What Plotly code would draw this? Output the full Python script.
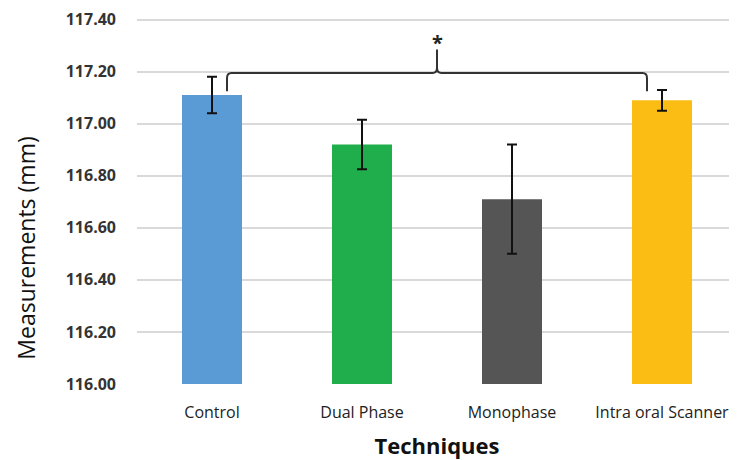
import plotly.graph_objects as go

categories = ["Control", "Dual Phase", "Monophase", "Intra oral Scanner"]
means = [117.11, 116.92, 116.71, 117.09]
errors = [0.07, 0.095, 0.21, 0.04]
colors = ["#5b9bd5", "#1fae4b", "#555555", "#fbbd13"]
y_ticks = [116.00, 116.20, 116.40, 116.60, 116.80, 117.00, 117.20, 117.40]
y_tick_labels = [f"{v:.2f}" for v in y_ticks]

x_idx = list(range(len(categories)))

fig = go.Figure()
fig.add_trace(go.Bar(
    x=x_idx, y=means,
    marker=dict(color=colors, line=dict(width=0)),
    error_y=dict(type="data", array=errors, visible=True, color="#111111", thickness=2, width=5),
    width=0.4,
    showlegend=False,
))

# significance bracket between Control and Intra oral Scanner
left = 0 + 0.1
right = 3 - 0.1
mid = (left + right) / 2
yb = 117.195
ylow = 117.125
ypk = 117.285
dx = 0.03
dy = 0.02
path = (f"M {left},{ylow} L {left},{yb-dy} Q {left},{yb} {left+dx},{yb} "
        f"L {mid-dx},{yb} Q {mid},{yb} {mid},{yb+dy} L {mid},{ypk} "
        f"M {mid},{yb+dy} Q {mid},{yb} {mid+dx},{yb} "
        f"L {right-dx},{yb} Q {right},{yb} {right},{yb-dy} L {right},{ylow}")
fig.add_shape(type="path", path=path, xref="x", yref="y",
              line=dict(color="#333333", width=2))
fig.add_annotation(x=mid, y=ypk, text="<b>*</b>", showarrow=False,
                   yanchor="bottom", yshift=-8, font=dict(size=20, color="#222222", family="Open Sans"))

# y-axis title placed as annotation (lower than plot centre, as in the original)
fig.add_annotation(text="Measurements (mm)", textangle=-90, xref="paper", yref="y",
                   x=-0.185, y=116.52, xanchor="center", yanchor="middle", showarrow=False,
                   font=dict(size=23, color="#111111", family="Open Sans"))

fig.update_layout(
    width=729, height=452,
    margin=dict(l=129, r=0, t=6, b=76),
    paper_bgcolor="white", plot_bgcolor="white",
    font=dict(family="Open Sans", color="#222222"),
    xaxis=dict(
        tickmode="array", tickvals=x_idx, ticktext=categories,
        range=[-0.5, 3.5], showgrid=False, zeroline=False, showline=False,
        tickfont=dict(size=16, color="#222222"), ticks="", ticklabelstandoff=17,
        title=dict(text="<b>Techniques</b>", font=dict(size=22, color="#111111"), standoff=17),
    ),
    yaxis=dict(
        range=[116.0, 117.41], tickmode="array", tickvals=y_ticks, ticktext=[f"<b>{t}</b>" for t in y_tick_labels],
        showgrid=True, gridcolor="#d9d9d9", gridwidth=1.5, zeroline=False, showline=False,
        tickfont=dict(size=16, color="#333333"), ticks="", ticklabelstandoff=20,
        ticklabeloverflow="allow",
    ),
    bargap=0.6,
)

fig.write_html("out.html")
